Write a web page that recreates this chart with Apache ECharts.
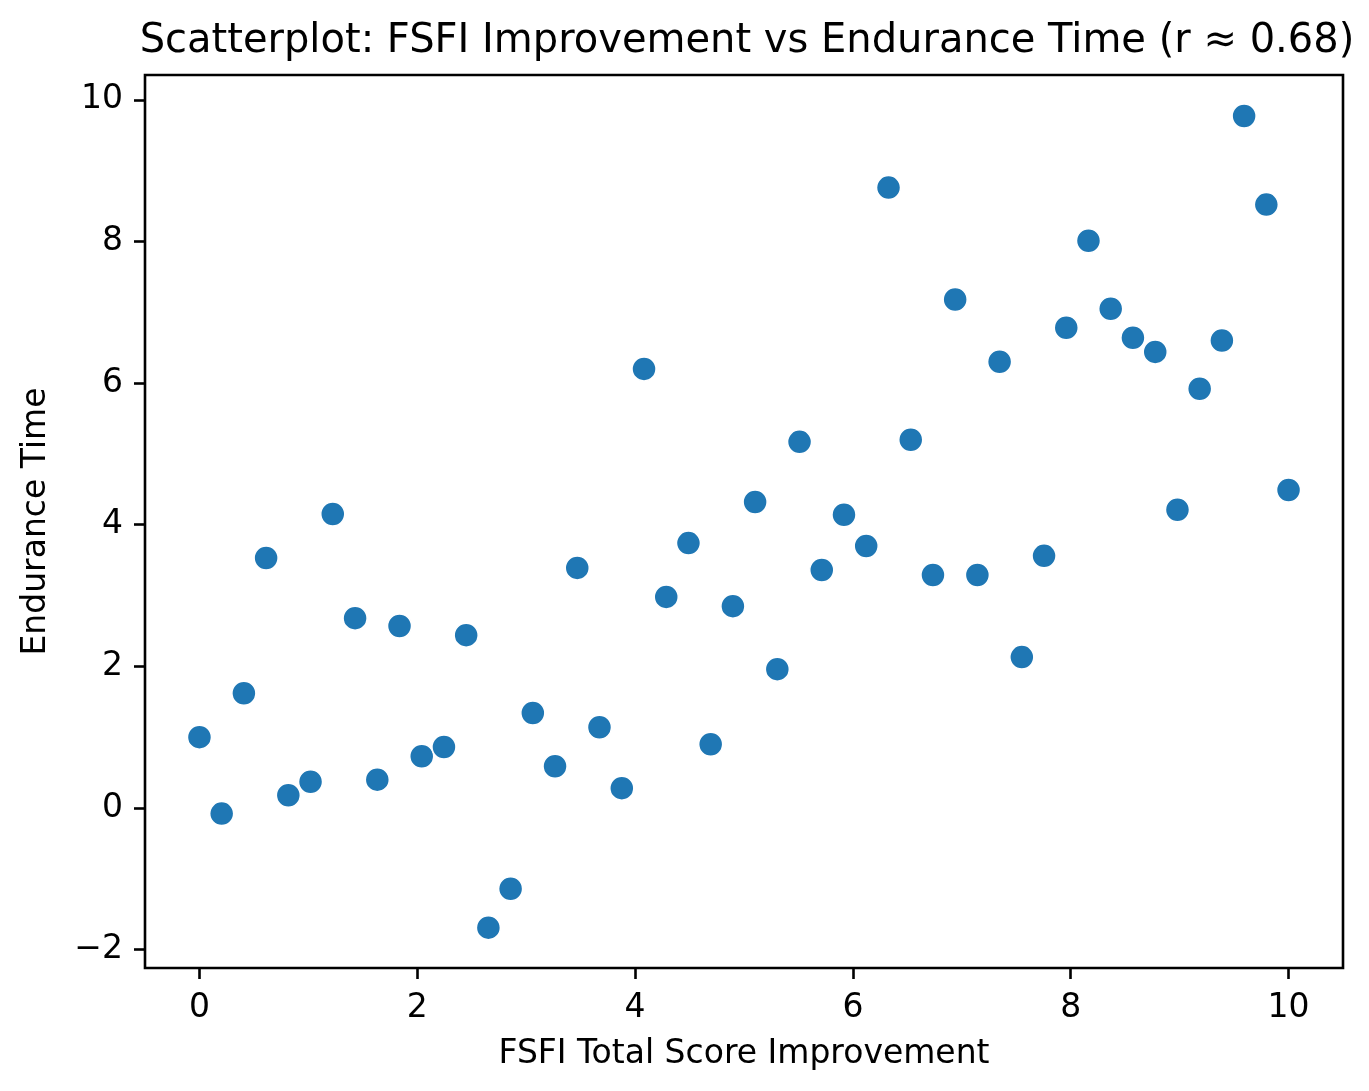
<!DOCTYPE html>
<html>
<head>
<meta charset="utf-8">
<title>FSFI vs Endurance</title>
<script src="https://cdn.jsdelivr.net/npm/echarts@6/dist/echarts.min.js"></script>
<style>
  html, body { margin: 0; padding: 0; background: #fff; }
  #chart { width: 1369px; height: 1091px; }
</style>
</head>
<body>
<div id="chart"></div>
<script>
// FSFI improvement (x), 50 evenly spaced values 0..10
const fsfiImprovement = [
  0.000, 0.204, 0.408, 0.612, 0.816, 1.020, 1.224, 1.429, 1.633, 1.837,
  2.041, 2.245, 2.449, 2.653, 2.857, 3.061, 3.265, 3.469, 3.673, 3.878,
  4.082, 4.286, 4.490, 4.694, 4.898, 5.102, 5.306, 5.510, 5.714, 5.918,
  6.122, 6.327, 6.531, 6.735, 6.939, 7.143, 7.347, 7.551, 7.755, 7.959,
  8.163, 8.367, 8.571, 8.776, 8.980, 9.184, 9.388, 9.592, 9.796, 10.000
]
// endurance time (y)
const enduranceTime = [
  1.00, -0.08, 1.62, 3.53, 0.18, 0.37, 4.15, 2.68, 0.40, 2.57,
  0.73, 0.86, 2.44, -1.69, -1.14, 1.34, 0.59, 3.39, 1.14, 0.28,
  6.20, 2.98, 3.74, 0.90, 2.85, 4.32, 1.96, 5.17, 3.36, 4.14,
  3.70, 8.76, 5.20, 3.29, 7.18, 3.29, 6.30, 2.13, 3.56, 6.78,
  8.01, 7.05, 6.64, 6.44, 4.21, 5.92, 6.60, 9.77, 8.52, 4.49
]
const xTicks = [0, 2, 4, 6, 8, 10]
const yTicks = [-2, 0, 2, 4, 6, 8, 10]

const FONT = 'DejaVu Sans'

const points = fsfiImprovement.map((x, i) => [x, enduranceTime[i]])

const fmt = v => (v < 0 ? '\u2212' + Math.abs(v) : String(v))

const chart = echarts.init(document.getElementById('chart'), null, { renderer: 'canvas' })

const option = {
  backgroundColor: '#fff',
  animation: false,
  title: {
    text: 'Scatterplot: FSFI Improvement vs Endurance Time (r \u2248 0.68)',
    left: 742,
    top: 17,
    textAlign: 'center',
    textStyle: { fontFamily: FONT, fontSize: 40, fontWeight: 'normal', color: '#000' }
  },
  grid: {
    left: 145,
    right: 26,
    top: 75,
    bottom: 123,
    show: true,
    borderColor: '#000',
    borderWidth: 2.6,
    backgroundColor: 'transparent'
  },
  xAxis: {
    type: 'value',
    min: -0.5,
    max: 10.5,
    name: 'FSFI Total Score Improvement',
    nameLocation: 'middle',
    nameGap: 70,
    nameTextStyle: { fontFamily: FONT, fontSize: 33, color: '#000' },
    axisLine: { show: false, onZero: false },
    axisTick: {
      show: true, length: 11, customValues: xTicks,
      lineStyle: { color: '#000', width: 2.6 }
    },
    axisLabel: {
      customValues: xTicks, margin: 24, formatter: fmt,
      fontFamily: FONT, fontSize: 33, color: '#000'
    },
    splitLine: { show: false }
  },
  yAxis: {
    type: 'value',
    min: -2.26,
    max: 10.35,
    name: 'Endurance Time',
    nameLocation: 'middle',
    nameGap: 92,
    nameTextStyle: { fontFamily: FONT, fontSize: 33, color: '#000' },
    axisLine: { show: false, onZero: false },
    axisTick: {
      show: true, length: 11, customValues: yTicks,
      lineStyle: { color: '#000', width: 2.6 }
    },
    axisLabel: {
      customValues: yTicks, margin: 22, formatter: fmt,
      fontFamily: FONT, fontSize: 33, color: '#000'
    },
    splitLine: { show: false }
  },
  series: [{
    type: 'scatter',
    data: points,
    symbol: 'circle',
    symbolSize: 24,
    itemStyle: { color: '#1f77b4', borderColor: '#fff', borderWidth: 1.5, opacity: 1 }
  }]
}

chart.setOption(option)
</script>
</body>
</html>
